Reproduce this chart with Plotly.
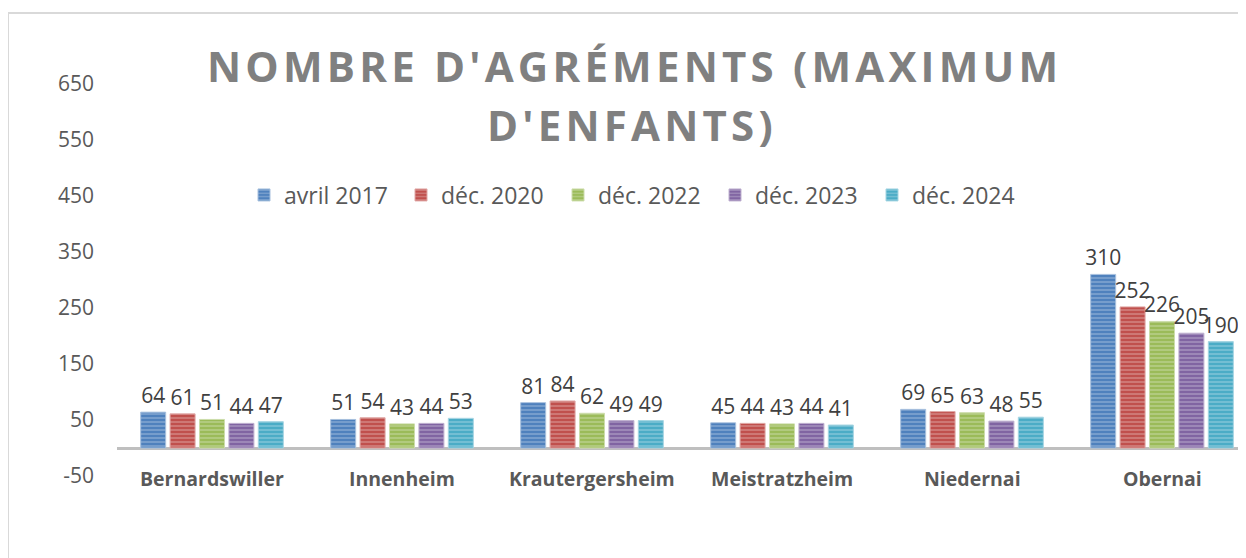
import plotly.graph_objects as go

categories = ["Bernardswiller", "Innenheim", "Krautergersheim", "Meistratzheim", "Niedernai", "Obernai"]
series_names = ["avril 2017", "déc. 2020", "déc. 2022", "déc. 2023", "déc. 2024"]
avril_2017 = [64, 51, 81, 45, 69, 310]
dec_2020 = [61, 54, 84, 44, 65, 252]
dec_2022 = [51, 43, 62, 43, 63, 226]
dec_2023 = [44, 44, 49, 44, 48, 205]
dec_2024 = [47, 53, 49, 41, 55, 190]
y_ticks = [-50, 50, 150, 250, 350, 450, 550, 650]

values = [avril_2017, dec_2020, dec_2022, dec_2023, dec_2024]
colors = ["#4F81BD", "#C0504D", "#9BBB59", "#8064A2", "#4BACC6"]
light = ["#A7C0DE", "#E0A8A6", "#CDDDAC", "#BFB1D0", "#A5D5E2"]

# page body has an 8px margin: work in reference pixels, shifted by OFF
OFF = 8
W, H = 1246, 558
L = 117 - OFF
T = 56 - OFF
B = H - (476 - OFF)
R = 0
plot_w = W - L - R
plot_h = H - T - B
cat_px = 190.0
x_max = -0.5 + plot_w / cat_px


def px_x(xr):
    return (xr - OFF - L) / plot_w


def px_y(yr):
    return 1 - (yr - OFF - T) / plot_h


fig = go.Figure()
xs = list(range(len(categories)))
for name, vals, c, lc in zip(series_names, values, colors, light):
    fig.add_trace(go.Bar(
        x=xs, y=vals, name=name,
        marker=dict(color=c, line=dict(color=lc, width=1),
                    pattern=dict(shape="-", size=4, solidity=0.45, fgcolor=lc, bgcolor=c, fillmode="overlay")),
        text=[str(v) for v in vals], textposition="outside", cliponaxis=False, constraintext="none",
        textfont=dict(family="Open Sans", size=21, color="#404040"),
    ))


def sp(s, ch="\u200a"):
    return ch.join(list(s))


title1 = sp("NOMBRE D'AGRÉMENTS (MAXIMUM")
title2 = sp("D'ENFANTS)")
tfont = dict(family="Open Sans", size=42, color="#808080", weight="bold")

annotations = [
    dict(text=title1, x=px_x(632), y=px_y(65), xref="paper", yref="paper",
         showarrow=False, xanchor="center", yanchor="middle", font=tfont),
    dict(text=title2, x=px_x(630), y=px_y(125), xref="paper", yref="paper",
         showarrow=False, xanchor="center", yanchor="middle", font=tfont),
]
for i, cat in enumerate(categories):
    annotations.append(dict(text=cat, x=i, y=px_y(478), xref="x", yref="paper", showarrow=False,
                            xanchor="center", yanchor="middle",
                            font=dict(family="Open Sans", size=19.5, color="#595959", weight="bold")))

fig.update_layout(
    width=W, height=H,
    margin=dict(l=L, r=R, t=T, b=B, pad=0),
    paper_bgcolor="white", plot_bgcolor="white",
    barmode="group", bargap=0.226, bargroupgap=0.15,
    showlegend=True,
    legend=dict(orientation="h", x=px_x(244), y=px_y(195),
                xanchor="left", yanchor="middle",
                font=dict(family="Open Sans", size=23, color="#595959"),
                bgcolor="rgba(0,0,0,0)", entrywidth=112, entrywidthmode="pixels"),
    xaxis=dict(range=[-0.5, x_max], showticklabels=False, showgrid=False, zeroline=False,
               showline=False, ticks="", fixedrange=True, tickmode="array", tickvals=xs),
    yaxis=dict(range=[-50, 700], tickmode="array", tickvals=y_ticks, ticktext=[str(t) for t in y_ticks],
               showgrid=False, zeroline=True, zerolinecolor="#BFBFBF", zerolinewidth=3,
               showline=False, ticks="", ticklabelstandoff=22,
               tickfont=dict(family="Open Sans", size=21, color="#595959")),
    annotations=annotations,
    shapes=[dict(type="rect", xref="paper", yref="paper",
                 x0=px_x(8), x1=1.05, y0=-0.5, y1=px_y(13),
                 line=dict(color="#D9D9D9", width=2), fillcolor="rgba(0,0,0,0)", layer="below")],
)

fig.write_html("out.html")
